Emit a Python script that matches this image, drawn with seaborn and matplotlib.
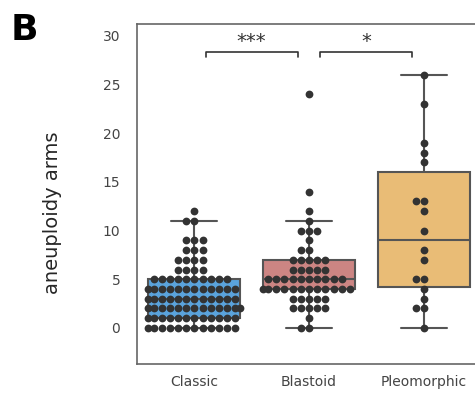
import numpy as np
import pandas as pd
import matplotlib.pyplot as plt
import seaborn as sns

# --- data (value: count) ---
groups = ['Classic', 'Blastoid', 'Pleomorphic']
classic_vals = [0, 1, 2, 3, 4, 5, 6, 7, 8, 9, 11, 12]
classic_cnts = [12, 12, 13, 12, 12, 10, 4, 4, 3, 3, 2, 1]
blastoid_vals = [0, 1, 2, 3, 4, 5, 6, 7, 8, 9, 10, 11, 12, 14, 24]
blastoid_cnts = [2, 1, 5, 5, 12, 10, 5, 5, 2, 1, 3, 1, 1, 1, 1]
pleo_points = [0, 2, 2, 3, 4, 5, 5, 7, 8, 10, 12, 13, 13, 17, 18, 19, 23, 26]
box_colors = ['#5aa3dc', '#cc8583', '#e9bc76']

rows = []
for v, c in zip(classic_vals, classic_cnts):
    rows += [('Classic', v)] * c
for v, c in zip(blastoid_vals, blastoid_cnts):
    rows += [('Blastoid', v)] * c
rows += [('Pleomorphic', v) for v in pleo_points]
df = pd.DataFrame(rows, columns=['subtype', 'arms'])

sns.set_theme(style='white')
plt.rcParams['font.family'] = ['DejaVu Sans']

fig = plt.figure(figsize=(4.75, 3.95), dpi=100)
ax = fig.add_axes([137/475, 1 - 364/395, 344/475, 340/395])

sns.boxplot(data=df, x='subtype', y='arms', order=groups, hue='subtype',
            palette=box_colors, saturation=1, showfliers=False, width=0.8,
            linewidth=1.5, linecolor='#555555', legend=False, ax=ax)
sns.swarmplot(data=df, x='subtype', y='arms', order=groups, color='#333333',
              size=5.6, ax=ax)

ax.set_xlim(-0.5, 2.5)
ax.set_ylim(-3.7, 31.2)
ax.set_yticks([0, 5, 10, 15, 20, 25, 30])
ax.set_xlabel('')
ax.set_ylabel('aneuploidy arms', fontsize=14)
ax.yaxis.set_label_coords(-0.218, 0.444)
ax.tick_params(axis='both', labelsize=10, labelcolor='#444444', length=0)
ax.tick_params(axis='x', pad=8)
ax.tick_params(axis='y', pad=12)
for sp in ax.spines.values():
    sp.set_color('#666666')
    sp.set_linewidth(1.2)

# significance brackets
for (i, j), star in [((0, 1), '***'), ((1, 2), '*')]:
    x1, x2 = i + 0.1, j - 0.1
    ax.plot([x1, x1, x2, x2], [27.8, 28.3, 28.3, 27.8], color='#333333', lw=1.2)
    ax.text((x1 + x2) / 2, 28.4, star, ha='center', va='bottom', fontsize=14, color='#333333')

fig.text(11/475, 1 - 40/395, 'B', fontsize=26, fontweight='bold', color='black')

plt.savefig('out.png', dpi=100)
plt.close()
